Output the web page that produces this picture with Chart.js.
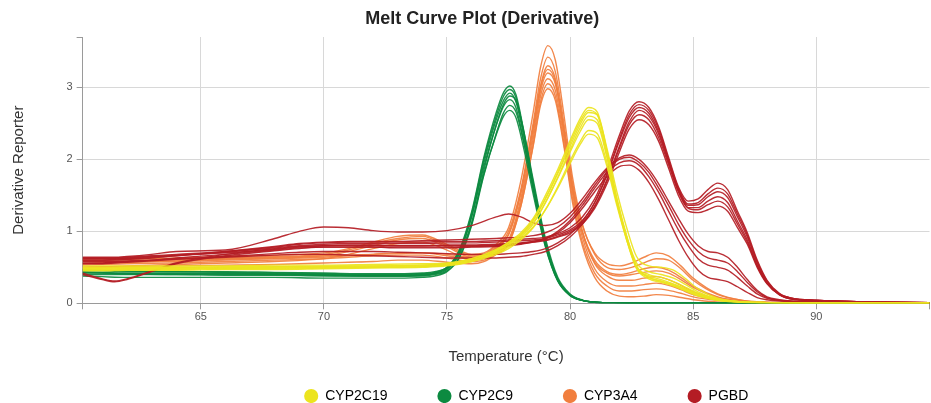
<!DOCTYPE html>
<html>
<head>
<meta charset="utf-8">
<title>Melt Curve Plot (Derivative)</title>
<script src="https://cdn.jsdelivr.net/npm/chart.js@4.4.1/dist/chart.umd.min.js"></script>
<style>
	html, body { margin: 0; padding: 0; background: #fff; }
	#wrap { width: 931px; height: 403px; position: relative; }
</style>
</head>
<body>
<div id="wrap"><canvas id="meltChart"></canvas></div>
<script>
"use strict"

// VARIABLES -----------------------
const groups = ["CYP2C19", "CYP2C9", "CYP3A4", "PGBD"]
const groupColors = ["rgba(236, 228, 30, 0.92)", "rgba(12, 138, 64, 0.92)", "rgba(241, 126, 62, 0.92)", "rgba(180, 28, 36, 0.92)"]
const legendColors = ["rgb(236, 228, 30)", "rgb(12, 138, 64)", "rgb(241, 126, 62)", "rgb(180, 28, 36)"]

const xTicks = [65, 70, 75, 80, 85, 90]
const yTicks = [0, 1, 2, 3]
const xRange = [60.2, 94.6]
const yRange = [0, 3.7]

// CYP2C19 wells
const yellowTemps = [60.2, 61, 62, 64, 66, 68, 70, 72, 74, 75, 76, 77, 77.5, 78, 78.5, 79, 79.5, 80, 80.4, 80.75, 81.1, 81.5, 81.9, 82.3, 82.7, 83.2, 83.7, 84.2, 84.7, 85.2, 86, 87, 88, 90, 94.6]
const yellowCurves = [
	[0.50, 0.50, 0.50, 0.50, 0.51, 0.51, 0.52, 0.52, 0.53, 0.55, 0.62, 0.75, 0.85, 0.98, 1.18, 1.50, 1.86, 2.26, 2.56, 2.72, 2.66, 2.12, 1.46, 0.94, 0.52, 0.40, 0.36, 0.30, 0.22, 0.14, 0.06, 0.02, 0.01, 0, 0],
	[0.47, 0.47, 0.48, 0.48, 0.49, 0.49, 0.50, 0.50, 0.51, 0.53, 0.60, 0.72, 0.82, 0.95, 1.15, 1.46, 1.82, 2.22, 2.52, 2.68, 2.62, 2.10, 1.45, 0.92, 0.50, 0.38, 0.33, 0.27, 0.20, 0.13, 0.05, 0.02, 0.01, 0, 0],
	[0.52, 0.52, 0.52, 0.52, 0.52, 0.53, 0.53, 0.54, 0.55, 0.56, 0.62, 0.74, 0.84, 0.96, 1.16, 1.45, 1.80, 2.18, 2.48, 2.65, 2.62, 2.15, 1.55, 1.05, 0.65, 0.52, 0.50, 0.46, 0.34, 0.20, 0.07, 0.02, 0.01, 0, 0],
	[0.45, 0.45, 0.46, 0.46, 0.47, 0.47, 0.48, 0.49, 0.50, 0.52, 0.58, 0.70, 0.80, 0.92, 1.10, 1.40, 1.75, 2.13, 2.43, 2.60, 2.55, 2.05, 1.42, 0.90, 0.50, 0.36, 0.31, 0.26, 0.19, 0.12, 0.05, 0.02, 0.01, 0, 0],
	[0.48, 0.48, 0.48, 0.49, 0.49, 0.50, 0.50, 0.51, 0.52, 0.54, 0.60, 0.72, 0.82, 0.94, 1.12, 1.40, 1.74, 2.10, 2.38, 2.55, 2.50, 2.02, 1.40, 0.88, 0.48, 0.34, 0.29, 0.24, 0.17, 0.10, 0.04, 0.015, 0.005, 0, 0],
	[0.46, 0.46, 0.47, 0.47, 0.48, 0.48, 0.49, 0.50, 0.51, 0.53, 0.58, 0.68, 0.76, 0.88, 1.05, 1.30, 1.62, 1.98, 2.24, 2.40, 2.36, 1.95, 1.40, 0.92, 0.56, 0.44, 0.40, 0.35, 0.26, 0.16, 0.06, 0.02, 0.01, 0, 0],
	[0.49, 0.49, 0.50, 0.50, 0.50, 0.51, 0.51, 0.52, 0.53, 0.55, 0.60, 0.70, 0.78, 0.90, 1.06, 1.30, 1.60, 1.94, 2.20, 2.35, 2.30, 1.90, 1.36, 0.88, 0.50, 0.36, 0.30, 0.25, 0.18, 0.11, 0.04, 0.015, 0.005, 0, 0],
]

// CYP2C9 wells
const greenTemps = [60.2, 61, 62, 64, 66, 68, 70, 72, 73, 74, 74.5, 75, 75.5, 76, 76.5, 77, 77.3, 77.55, 77.8, 78.1, 78.5, 79, 79.5, 80, 80.5, 81, 82, 85, 90, 94.6]
const greenCurves = [
	[0.46, 0.45, 0.44, 0.44, 0.43, 0.42, 0.41, 0.40, 0.40, 0.41, 0.43, 0.50, 0.74, 1.27, 2.03, 2.65, 2.93, 3.02, 2.90, 2.43, 1.68, 0.86, 0.34, 0.12, 0.04, 0.015, 0.005, 0, 0, 0],
	[0.42, 0.42, 0.41, 0.41, 0.41, 0.40, 0.39, 0.38, 0.38, 0.39, 0.42, 0.49, 0.72, 1.24, 2.00, 2.60, 2.88, 2.97, 2.86, 2.40, 1.66, 0.85, 0.33, 0.11, 0.04, 0.015, 0.005, 0, 0, 0],
	[0.44, 0.43, 0.42, 0.42, 0.42, 0.41, 0.40, 0.39, 0.39, 0.40, 0.42, 0.48, 0.70, 1.20, 1.95, 2.55, 2.82, 2.92, 2.80, 2.35, 1.62, 0.82, 0.32, 0.11, 0.04, 0.015, 0.005, 0, 0, 0],
	[0.40, 0.40, 0.40, 0.40, 0.39, 0.39, 0.38, 0.38, 0.38, 0.38, 0.40, 0.45, 0.64, 1.10, 1.85, 2.48, 2.77, 2.88, 2.82, 2.42, 1.72, 0.90, 0.36, 0.13, 0.045, 0.015, 0.005, 0, 0, 0],
	[0.47, 0.46, 0.45, 0.44, 0.44, 0.43, 0.42, 0.41, 0.41, 0.42, 0.44, 0.50, 0.72, 1.20, 1.90, 2.47, 2.74, 2.83, 2.72, 2.28, 1.58, 0.80, 0.31, 0.11, 0.04, 0.015, 0.005, 0, 0, 0],
	[0.38, 0.37, 0.36, 0.36, 0.36, 0.36, 0.35, 0.35, 0.35, 0.36, 0.38, 0.44, 0.63, 1.08, 1.78, 2.36, 2.65, 2.75, 2.66, 2.26, 1.60, 0.83, 0.33, 0.12, 0.04, 0.015, 0.005, 0, 0, 0],
	[0.43, 0.42, 0.41, 0.40, 0.40, 0.40, 0.39, 0.38, 0.38, 0.39, 0.41, 0.47, 0.68, 1.12, 1.80, 2.34, 2.60, 2.68, 2.58, 2.18, 1.52, 0.78, 0.31, 0.11, 0.04, 0.015, 0.005, 0, 0, 0],
]

// CYP3A4 wells
const orangeTemps = [60.2, 61, 62, 64, 66, 68, 70, 71, 72, 73, 74, 75, 76, 76.5, 77, 77.5, 78, 78.5, 78.8, 79.1, 79.4, 79.75, 80.1, 80.5, 81, 81.5, 82, 82.5, 83, 83.5, 84, 84.5, 85, 86, 87, 88, 90, 94.6]
const orangeCurves = [
	[0.60, 0.60, 0.61, 0.63, 0.65, 0.67, 0.70, 0.76, 0.85, 0.93, 0.95, 0.82, 0.68, 0.70, 0.82, 1.05, 1.70, 2.65, 3.28, 3.58, 3.38, 2.62, 1.75, 1.10, 0.68, 0.50, 0.47, 0.50, 0.56, 0.62, 0.60, 0.48, 0.32, 0.12, 0.04, 0.015, 0.005, 0],
	[0.58, 0.58, 0.59, 0.60, 0.62, 0.64, 0.66, 0.67, 0.68, 0.69, 0.70, 0.68, 0.64, 0.67, 0.78, 1.00, 1.58, 2.50, 3.12, 3.42, 3.22, 2.50, 1.68, 1.08, 0.70, 0.55, 0.52, 0.56, 0.64, 0.70, 0.66, 0.52, 0.35, 0.13, 0.04, 0.015, 0.005, 0],
	[0.55, 0.56, 0.57, 0.59, 0.61, 0.63, 0.66, 0.72, 0.80, 0.88, 0.90, 0.78, 0.64, 0.66, 0.76, 0.96, 1.55, 2.45, 3.02, 3.30, 3.12, 2.42, 1.62, 1.00, 0.60, 0.44, 0.40, 0.43, 0.48, 0.50, 0.46, 0.36, 0.24, 0.09, 0.03, 0.01, 0.005, 0],
	[0.55, 0.56, 0.57, 0.58, 0.60, 0.62, 0.64, 0.66, 0.68, 0.70, 0.70, 0.66, 0.62, 0.66, 0.76, 0.88, 1.45, 2.35, 2.95, 3.20, 3.05, 2.40, 1.60, 1.00, 0.55, 0.38, 0.32, 0.32, 0.35, 0.37, 0.33, 0.25, 0.16, 0.06, 0.02, 0.01, 0, 0],
	[0.50, 0.51, 0.52, 0.54, 0.56, 0.58, 0.62, 0.68, 0.76, 0.83, 0.85, 0.74, 0.60, 0.62, 0.72, 0.85, 1.40, 2.28, 2.88, 3.12, 2.96, 2.30, 1.52, 0.92, 0.48, 0.30, 0.24, 0.24, 0.26, 0.28, 0.25, 0.19, 0.12, 0.05, 0.02, 0.01, 0, 0],
	[0.50, 0.50, 0.51, 0.52, 0.53, 0.54, 0.56, 0.57, 0.58, 0.60, 0.60, 0.57, 0.55, 0.58, 0.68, 0.82, 1.35, 2.20, 2.80, 3.05, 2.88, 2.22, 1.45, 0.85, 0.42, 0.24, 0.17, 0.17, 0.19, 0.20, 0.18, 0.14, 0.09, 0.04, 0.015, 0.005, 0, 0],
	[0.53, 0.54, 0.55, 0.56, 0.58, 0.60, 0.62, 0.64, 0.66, 0.67, 0.67, 0.63, 0.58, 0.60, 0.70, 0.84, 1.35, 2.18, 2.75, 2.98, 2.82, 2.18, 1.40, 0.80, 0.36, 0.17, 0.10, 0.09, 0.10, 0.12, 0.11, 0.08, 0.05, 0.02, 0.01, 0, 0, 0],
	[0.62, 0.62, 0.62, 0.62, 0.63, 0.65, 0.68, 0.74, 0.83, 0.90, 0.93, 0.80, 0.66, 0.68, 0.80, 0.95, 1.52, 2.42, 3.00, 3.25, 3.08, 2.38, 1.58, 0.98, 0.57, 0.42, 0.38, 0.40, 0.43, 0.45, 0.42, 0.33, 0.22, 0.08, 0.03, 0.01, 0, 0],
]

// PGBD wells
const redTemps = [60.2, 61, 61.5, 62, 63, 64, 66, 68, 69, 70, 71, 72, 73, 74, 75, 76, 77, 77.5, 78, 78.5, 79, 79.5, 80, 80.5, 81, 81.5, 82, 82.4, 82.8, 83.2, 83.6, 84, 84.4, 84.8, 85.2, 85.6, 86, 86.4, 86.8, 87.2, 87.6, 88, 88.5, 89, 90, 92, 94.6]
const redCurves = [
	[0.63, 0.63, 0.63, 0.64, 0.66, 0.68, 0.72, 0.78, 0.82, 0.84, 0.85, 0.85, 0.85, 0.85, 0.86, 0.86, 0.87, 0.88, 0.89, 0.90, 0.92, 0.97, 1.05, 1.20, 1.45, 1.85, 2.33, 2.67, 2.80, 2.72, 2.45, 2.03, 1.62, 1.42, 1.45, 1.58, 1.67, 1.58, 1.28, 0.98, 0.60, 0.32, 0.14, 0.07, 0.04, 0.02, 0.01],
	[0.58, 0.58, 0.58, 0.59, 0.60, 0.62, 0.65, 0.69, 0.71, 0.72, 0.72, 0.72, 0.71, 0.70, 0.69, 0.68, 0.68, 0.69, 0.70, 0.72, 0.76, 0.84, 0.96, 1.14, 1.40, 1.80, 2.28, 2.62, 2.76, 2.68, 2.42, 2.00, 1.60, 1.38, 1.40, 1.52, 1.60, 1.52, 1.24, 0.95, 0.58, 0.31, 0.13, 0.07, 0.04, 0.02, 0.01],
	[0.60, 0.60, 0.61, 0.62, 0.64, 0.66, 0.71, 0.77, 0.80, 0.82, 0.83, 0.83, 0.83, 0.83, 0.84, 0.84, 0.85, 0.86, 0.87, 0.88, 0.90, 0.95, 1.02, 1.15, 1.40, 1.78, 2.25, 2.58, 2.72, 2.64, 2.38, 1.98, 1.58, 1.36, 1.37, 1.48, 1.55, 1.47, 1.20, 0.92, 0.56, 0.30, 0.13, 0.07, 0.04, 0.02, 0.01],
	[0.55, 0.55, 0.56, 0.57, 0.59, 0.61, 0.64, 0.67, 0.68, 0.68, 0.67, 0.66, 0.65, 0.64, 0.63, 0.63, 0.63, 0.64, 0.65, 0.68, 0.72, 0.80, 0.92, 1.10, 1.35, 1.72, 2.18, 2.52, 2.68, 2.60, 2.35, 1.96, 1.56, 1.33, 1.33, 1.42, 1.48, 1.40, 1.14, 0.88, 0.53, 0.28, 0.12, 0.06, 0.04, 0.02, 0.01],
	[0.42, 0.34, 0.31, 0.34, 0.45, 0.56, 0.68, 0.76, 0.79, 0.80, 0.80, 0.80, 0.80, 0.80, 0.81, 0.81, 0.82, 0.83, 0.84, 0.86, 0.88, 0.93, 1.00, 1.12, 1.35, 1.70, 2.15, 2.48, 2.62, 2.55, 2.30, 1.93, 1.55, 1.32, 1.30, 1.37, 1.42, 1.34, 1.10, 0.85, 0.52, 0.28, 0.12, 0.06, 0.04, 0.02, 0.01],
	[0.62, 0.62, 0.62, 0.63, 0.65, 0.67, 0.70, 0.75, 0.78, 0.80, 0.81, 0.81, 0.80, 0.80, 0.80, 0.80, 0.81, 0.82, 0.83, 0.85, 0.87, 0.92, 0.98, 1.10, 1.32, 1.66, 2.10, 2.42, 2.55, 2.48, 2.25, 1.88, 1.50, 1.28, 1.26, 1.30, 1.35, 1.28, 1.05, 0.82, 0.50, 0.27, 0.12, 0.06, 0.04, 0.02, 0.01],
	[0.64, 0.64, 0.64, 0.65, 0.68, 0.72, 0.74, 0.90, 1.00, 1.06, 1.05, 1.01, 0.99, 0.99, 1.01, 1.08, 1.20, 1.24, 1.20, 1.12, 1.08, 1.12, 1.25, 1.45, 1.68, 1.88, 2.02, 2.06, 2.00, 1.86, 1.66, 1.42, 1.18, 0.96, 0.80, 0.72, 0.70, 0.64, 0.50, 0.33, 0.18, 0.09, 0.05, 0.03, 0.02, 0.01, 0.01],
	[0.60, 0.60, 0.60, 0.61, 0.63, 0.66, 0.72, 0.79, 0.83, 0.85, 0.86, 0.86, 0.86, 0.87, 0.88, 0.89, 0.90, 0.91, 0.92, 0.94, 0.98, 1.06, 1.20, 1.40, 1.64, 1.86, 2.00, 2.03, 1.96, 1.82, 1.60, 1.36, 1.10, 0.88, 0.72, 0.63, 0.60, 0.56, 0.44, 0.29, 0.16, 0.08, 0.04, 0.03, 0.02, 0.01, 0.01],
	[0.56, 0.56, 0.57, 0.58, 0.60, 0.63, 0.68, 0.74, 0.77, 0.78, 0.78, 0.78, 0.77, 0.77, 0.77, 0.78, 0.79, 0.80, 0.82, 0.85, 0.90, 1.00, 1.15, 1.36, 1.60, 1.82, 1.95, 1.98, 1.92, 1.76, 1.54, 1.28, 1.02, 0.80, 0.62, 0.53, 0.50, 0.46, 0.36, 0.24, 0.13, 0.07, 0.04, 0.03, 0.02, 0.01, 0.01],
	[0.40, 0.33, 0.30, 0.33, 0.44, 0.55, 0.66, 0.73, 0.76, 0.78, 0.78, 0.78, 0.78, 0.78, 0.78, 0.79, 0.80, 0.81, 0.83, 0.86, 0.90, 0.98, 1.12, 1.32, 1.55, 1.76, 1.90, 1.92, 1.85, 1.68, 1.44, 1.16, 0.88, 0.64, 0.46, 0.36, 0.33, 0.30, 0.23, 0.15, 0.08, 0.05, 0.03, 0.02, 0.02, 0.01, 0.01],
]

const FONT = "'Liberation Sans', Arial, sans-serif"
const gridColor = "#d8d8d8"
const axisColor = "#9a9a9a"

Chart.defaults.font.family = FONT

// FUNCTIONS -----------------------
function wellDatasets(group, temps, curves) {
	var color = groupColors[groups.indexOf(group)]
	return curves.map(function (row) {
		return {
			label: group,
			data: temps.map(function (t, i) {
				return { x: t, y: row[i] }
			}),
			borderColor: color,
			backgroundColor: color,
			borderWidth: 1.4,
			pointRadius: 0,
			pointHoverRadius: 0,
			fill: false,
			cubicInterpolationMode: "monotone",
		}
	})
}

// only the named ticks get labels and grid lines, the axis ends keep their tick marks
function fixedTicks(values, range) {
	return function (axis) {
		var all = [range[0]].concat(values, [range[1]]).filter(function (v, i, arr) {
			return arr.indexOf(v) === i
		})
		axis.ticks = all.map(function (v) {
			return { value: v }
		})
	}
}

// nudges the title and the legend row into place after the layout pass
const placeBoxes = {
	id: "placeBoxes",
	afterLayout: function (chart) {
		var t = chart.titleBlock
		t.left += 16
		t.right += 16
		var l = chart.legend
		l.left += 60
		l.right += 60
		l.top = 396 - 7 - 50
		l.bottom = chart.height
	},
}

// CHART -----------------------
var datasets = []
	.concat(wellDatasets("CYP2C19", yellowTemps, yellowCurves))
	.concat(wellDatasets("PGBD", redTemps, redCurves))
	.concat(wellDatasets("CYP2C9", greenTemps, greenCurves))
	.concat(wellDatasets("CYP3A4", orangeTemps, orangeCurves))

var meltChart = new Chart(document.getElementById("meltChart").getContext("2d"), {
	type: "line",
	data: { datasets: datasets },
	plugins: [placeBoxes],
	options: {
		responsive: true,
		maintainAspectRatio: false,
		animation: false,
		layout: { padding: { left: 0, top: 0, bottom: 0, right: -1.5 } },
		plugins: {
			title: {
				display: true,
				text: "Melt Curve Plot (Derivative)",
				color: "#222",
				font: { family: FONT, size: 18, weight: "bold" },
				padding: { top: 8.7, bottom: 6.7 },
			},
			legend: {
				position: "bottom",
				maxHeight: 30,
				labels: {
					usePointStyle: true,
					pointStyle: "circle",
					boxHeight: 10,
					padding: 50,
					color: "#333",
					font: { family: FONT, size: 14 },
					generateLabels: function () {
						return groups.map(function (name, i) {
							return {
								text: name,
								fillStyle: legendColors[i],
								strokeStyle: legendColors[i],
								lineWidth: 0,
								pointStyle: "circle",
								hidden: false,
							}
						})
					},
				},
			},
			tooltip: { enabled: false },
		},
		scales: {
			x: {
				type: "linear",
				min: xRange[0],
				max: xRange[1],
				afterBuildTicks: fixedTicks(xTicks, xRange),
				ticks: {
					autoSkip: false,
					maxRotation: 0,
					padding: 1.5,
					color: "#555",
					font: { family: FONT, size: 11 },
					callback: function (v) {
						return xTicks.indexOf(v) >= 0 ? String(v) : ""
					},
				},
				grid: {
					color: function (c) {
						return c.tick && xTicks.indexOf(c.tick.value) >= 0 ? gridColor : "rgba(0,0,0,0)"
					},
					tickColor: axisColor,
					tickLength: 6,
				},
				border: { color: axisColor, width: 1 },
				title: {
					display: true,
					text: "Temperature (°C)",
					color: "#333",
					font: { family: FONT, size: 15 },
					padding: { top: 22.5, bottom: 7 },
				},
			},
			y: {
				min: yRange[0],
				max: yRange[1],
				afterBuildTicks: fixedTicks(yTicks, yRange),
				ticks: {
					padding: 4,
					color: "#555",
					font: { family: FONT, size: 11 },
					callback: function (v) {
						return yTicks.indexOf(v) >= 0 ? String(v) : ""
					},
				},
				grid: {
					color: function (c) {
						return c.tick && yTicks.indexOf(c.tick.value) >= 0 ? gridColor : "rgba(0,0,0,0)"
					},
					tickColor: axisColor,
					tickLength: 6,
				},
				border: { color: axisColor, width: 1 },
				title: {
					display: true,
					text: "Derivative Reporter",
					color: "#333",
					font: { family: FONT, size: 15 },
					padding: { top: 10, bottom: 34.5 },
				},
			},
		},
	},
})
</script>
</body>
</html>
